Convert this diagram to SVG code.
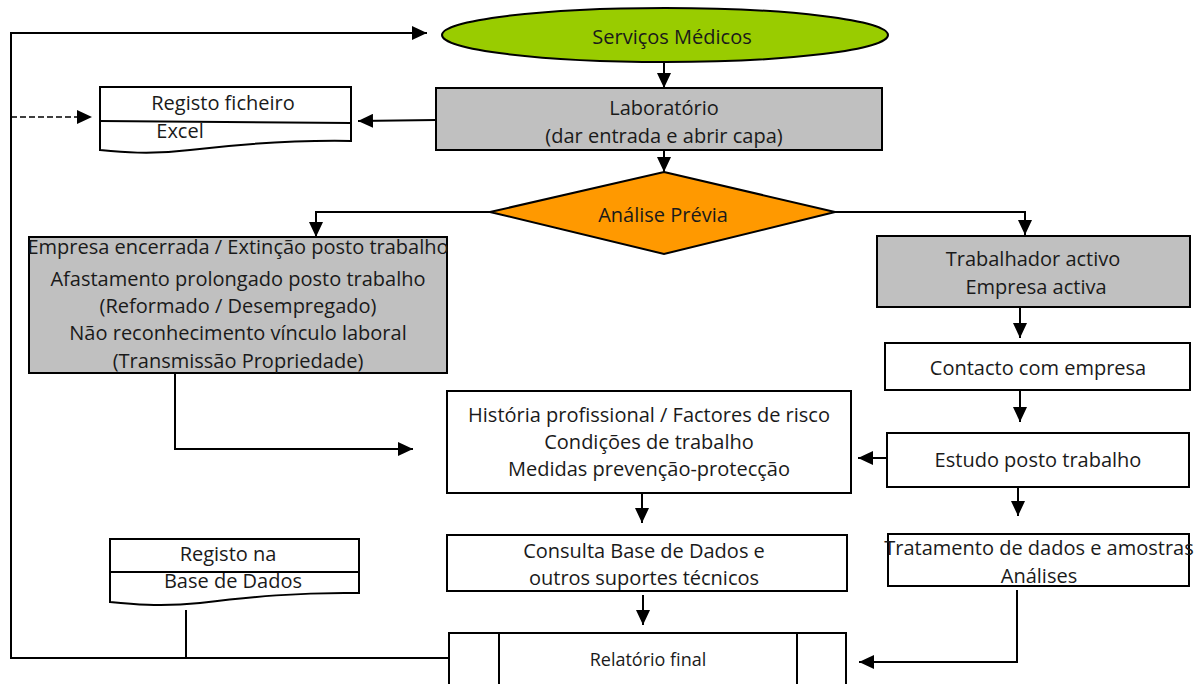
<svg xmlns="http://www.w3.org/2000/svg" width="1197" height="684" viewBox="0 0 1197 684">
<style>
text{font-family:"Open Sans","Liberation Sans",sans-serif;font-size:20px;fill:#1a1a1a;text-anchor:middle;dominant-baseline:central}
.box{stroke:#000;stroke-width:2}
.gray{fill:#c0c0c0}
.white{fill:#fff}
.ln{fill:none;stroke:#000;stroke-width:2}
.arr{marker-end:url(#ah)}
</style>
<defs>
<marker id="ah" markerUnits="userSpaceOnUse" markerWidth="16" markerHeight="14" refX="15" refY="7" orient="auto">
<path d="M0,0 L15,7 L0,14 Z" fill="#000"/>
</marker>
</defs>
<rect width="1197" height="684" fill="#fff"/>
<g id="connectors">
<path class="ln arr" d="M664,62 V88"/>
<path class="ln arr" d="M664,150 V172"/>
<path class="ln arr" d="M436,120 L358,121"/>
<path class="ln arr" d="M490,212 H316 V237"/>
<path class="ln arr" d="M835,212 H1025 V235"/>
<path class="ln arr" d="M1020,307 V338"/>
<path class="ln arr" d="M1020,390 V422"/>
<path class="ln arr" d="M887,458 H858"/>
<path class="ln arr" d="M1018,487 V516"/>
<path class="ln arr" d="M1017,590 V662 H859"/>
<path class="ln arr" d="M175,373 V449 H413"/>
<path class="ln arr" d="M642,493 V523"/>
<path class="ln arr" d="M643,595 V625"/>
<path class="ln arr" d="M449,658 H11 V33 H427"/>
<path class="ln" d="M186,610 V658"/>
<path class="ln arr" d="M11,117 H92" stroke-dasharray="6,3" style="stroke-width:1.3"/>
</g>
<g id="servicos">
<ellipse cx="665" cy="35" rx="223" ry="27" fill="#99cc00" class="box"/>
<text x="672" y="36">Serviços Médicos</text>
</g>
<g id="laboratorio">
<rect x="436" y="88" width="446" height="62" class="box gray"/>
<text x="664" y="107">Laboratório</text>
<text x="664" y="135">(dar entrada e abrir capa)</text>
</g>
<g id="registo-ficheiro">
<path d="M100,87 H351 V141 C290,140 240,144 190,150 C150,155 120,152 100,150 Z" class="box white"/>
<path class="ln" d="M100,121 L351,123"/>
<text x="223" y="102">Registo ficheiro</text>
<text x="180" y="130">Excel</text>
</g>
<g id="analise">
<polygon points="664,172 835,212 664,254 490,212" fill="#ff9900" class="box"/>
<text x="663" y="214">Análise Prévia</text>
</g>
<g id="empresa-encerrada">
<rect x="29" y="237" width="418" height="136" class="box gray"/>
<text x="238" y="246">Empresa encerrada / Extinção posto trabalho</text>
<text x="238" y="278">Afastamento prolongado posto trabalho</text>
<text x="238" y="305">(Reformado / Desempregado)</text>
<text x="238" y="332">Não reconhecimento vínculo laboral</text>
<text x="238" y="360">(Transmissão Propriedade)</text>
</g>
<g id="trabalhador-activo">
<rect x="877" y="236" width="313" height="71" class="box gray"/>
<text x="1033" y="258">Trabalhador activo</text>
<text x="1036" y="286">Empresa activa</text>
</g>
<g id="contacto">
<rect x="885" y="343" width="305" height="47" class="box white"/>
<text x="1038" y="367">Contacto com empresa</text>
</g>
<g id="estudo">
<rect x="887" y="433" width="302" height="54" class="box white"/>
<text x="1038" y="459">Estudo posto trabalho</text>
</g>
<g id="historia">
<rect x="447" y="391" width="404" height="102" class="box white"/>
<text x="649" y="414">História profissional / Factores de risco</text>
<text x="649" y="441">Condições de trabalho</text>
<text x="649" y="468">Medidas prevenção-protecção</text>
</g>
<g id="tratamento">
<rect x="888" y="534" width="301" height="52" class="box white"/>
<text x="1039" y="547">Tratamento de dados e amostras</text>
<text x="1039" y="575">Análises</text>
</g>
<g id="consulta">
<rect x="447" y="535" width="400" height="56" class="box white"/>
<text x="644" y="550">Consulta Base de Dados e</text>
<text x="644" y="577">outros suportes técnicos</text>
</g>
<g id="registo-bd">
<path d="M110,539 H359 V593 C300,592 250,597 200,603 C160,607 130,604 110,602 Z" class="box white"/>
<path class="ln" d="M110,572 H359"/>
<text x="228" y="553">Registo na</text>
<text x="233" y="580">Base de Dados</text>
</g>
<g id="relatorio">
<rect x="449" y="633" width="397" height="60" class="box white"/>
<path class="ln" d="M499,633 V684 M797,633 V684"/>
<text x="648" y="659" style="font-size:18px">Relatório final</text>
</g>
</svg>
